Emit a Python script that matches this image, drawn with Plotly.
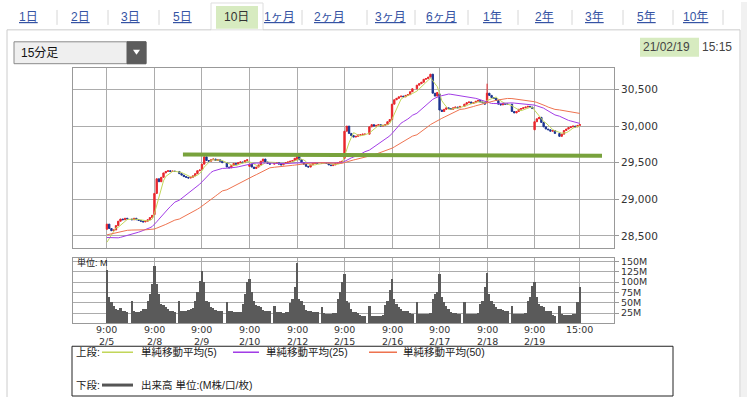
import plotly.graph_objects as go
import pandas as pd

W, H = 747, 397

# ---------------- data ----------------
days = ["2/5", "2/8", "2/9", "2/10", "2/12", "2/15", "2/16", "2/17", "2/18", "2/19"]
morning_times = ["9:00", "9:15", "9:30", "9:45", "10:00", "10:15", "10:30", "10:45", "11:00", "11:15"]
afternoon_times = ["12:30", "12:45", "13:00", "13:15", "13:30", "13:45", "14:00", "14:15", "14:30", "14:45"]

# opening price of the first 15-min bar of each day
day_open = [28590, 28790, 29410, 29450, 29540, 29560, 30090, 30440, 30320, 29950]

# 15-min closes (10 morning bars, 10 afternoon bars) per day
close_0205 = [28660, 28600, 28570, 28580, 28640, 28700, 28730, 28720, 28740, 28730,
              28720, 28740, 28720, 28710, 28700, 28690, 28700, 28720, 28750, 28780]
close_0208 = [29080, 29280, 29240, 29300, 29360, 29380, 29390, 29380, 29385, 29380,
              29350, 29330, 29310, 29300, 29290, 29300, 29320, 29350, 29390, 29400]
close_0209 = [29480, 29580, 29530, 29520, 29540, 29550, 29530, 29540, 29520, 29500,
              29440, 29430, 29460, 29490, 29480, 29500, 29510, 29500, 29530, 29540]
close_0210 = [29480, 29440, 29420, 29440, 29470, 29520, 29550, 29510, 29490, 29480,
              29490, 29500, 29480, 29470, 29490, 29500, 29510, 29520, 29530, 29560]
close_0212 = [29610, 29540, 29500, 29480, 29450, 29440, 29470, 29490, 29500, 29490,
              29500, 29500, 29490, 29470, 29460, 29470, 29490, 29500, 29510, 29520]
close_0215 = [29930, 30000, 29900, 29870, 29850, 29860, 29880, 29880, 29890, 29890,
              29990, 30020, 30000, 30010, 30020, 30000, 30010, 30020, 30060, 30090]
close_0216 = [30300, 30360, 30380, 30400, 30410, 30400, 30420, 30430, 30470, 30510,
              30560, 30580, 30600, 30640, 30650, 30670, 30710, 30450, 30410, 30460]
close_0217 = [30220, 30200, 30230, 30250, 30240, 30230, 30250, 30260, 30250, 30270,
              30300, 30320, 30330, 30310, 30320, 30340, 30350, 30330, 30320, 30300]
close_0218 = [30450, 30420, 30390, 30380, 30350, 30300, 30290, 30310, 30300, 30300,
              30200, 30180, 30200, 30230, 30240, 30250, 30260, 30270, 30260, 30240]
close_0219 = [30060, 30100, 30120, 30050, 29990, 29960, 29950, 29930, 29940, 29900,
              29860, 29890, 29940, 29960, 29980, 29990, 30000, 29990, 30010, 30020]

# closes before the visible window (2/2 pm, 2/3, 2/4) - only used to warm up the averages
prior_closes = [28250, 28280, 28300, 28320, 28330, 28340, 28350, 28360, 28362,
                28560, 28620, 28660, 28700, 28720, 28700, 28680, 28690, 28700, 28710,
                28690, 28680, 28700, 28690, 28680, 28670, 28660, 28650, 28640, 28646,
                28600, 28560, 28520, 28500, 28480, 28470, 28460, 28450, 28440, 28420,
                28420, 28410, 28400, 28390, 28380, 28370, 28360, 28350, 28350, 28341]

# volume, millions
vol_0205 = [130, 63, 51, 41, 36, 33, 38, 31, 29, 27, 55, 29, 28, 27, 31, 35, 35, 55, 72, 95]
vol_0208 = [139, 95, 71, 48, 44, 39, 35, 30, 29, 28, 55, 31, 30, 31, 33, 35, 38, 55, 75, 103]
vol_0209 = [128, 99, 55, 51, 40, 38, 33, 31, 30, 30, 51, 30, 29, 28, 28, 27, 27, 47, 71, 100]
vol_0210 = [108, 75, 55, 45, 42, 40, 33, 31, 30, 30, 43, 28, 27, 27, 26, 27, 28, 50, 60, 88]
vol_0212 = [147, 60, 55, 45, 33, 31, 30, 28, 27, 27, 39, 24, 23, 23, 23, 24, 25, 59, 75, 100]
vol_0215 = [119, 55, 50, 35, 27, 27, 25, 20, 18, 18, 43, 18, 17, 17, 18, 19, 20, 45, 55, 80]
vol_0216 = [107, 59, 47, 40, 35, 31, 31, 30, 25, 23, 51, 23, 23, 22, 22, 23, 25, 59, 71, 75]
vol_0217 = [120, 63, 51, 42, 35, 27, 25, 24, 23, 23, 51, 23, 22, 22, 22, 23, 24, 47, 55, 87]
vol_0218 = [122, 71, 55, 47, 40, 35, 35, 33, 31, 30, 43, 23, 22, 22, 22, 23, 25, 55, 65, 90]
vol_0219 = [99, 63, 47, 42, 39, 31, 31, 29, 20, 19, 43, 22, 21, 21, 20, 21, 22, 23, 51, 89]

price_ticks = [28500, 29000, 29500, 30000, 30500]
volume_ticks = [25, 50, 75, 100, 125, 150]
volume_tick_text = ["25M", "50M", "75M", "100M", "125M", "150M"]

support_level = [29612, 29594]          # hand-drawn green line (start, end)
support_span = [("2/8", 12.6), ("2/19", 29.8)]   # (day, slot within day)

tabs = ["1日", "2日", "3日", "5日", "10日", "1ヶ月", "2ヶ月", "3ヶ月", "6ヶ月", "1年", "2年", "3年", "5年", "10年"]
selected_tab = "10日"

# ---------------- assemble ----------------
SLOTS = 21  # 10 morning bars, lunch gap, 10 afternoon bars
closes_by_day = [close_0205, close_0208, close_0209, close_0210, close_0212,
                 close_0215, close_0216, close_0217, close_0218, close_0219]
vols_by_day = [vol_0205, vol_0208, vol_0209, vol_0210, vol_0212,
               vol_0215, vol_0216, vol_0217, vol_0218, vol_0219]

xs, o, c, v, labels = [], [], [], [], []
prev = prior_closes[-1]
for d, day in enumerate(days):
    times = morning_times + afternoon_times
    for k, t in enumerate(times):
        slot = d * SLOTS + (k if k < 10 else k + 1)
        xs.append(slot)
        op = day_open[d] if k == 0 else prev
        cl = closes_by_day[d][k]
        o.append(op)
        c.append(cl)
        v.append(vols_by_day[d][k])
        labels.append(f"{day} {t}")
        prev = cl
hi = [max(a, b) for a, b in zip(o, c)]
lo = [min(a, b) for a, b in zip(o, c)]
# visible upper wick at the 2/18 open
hi[labels.index("2/18 9:00")] = 30580

full = pd.Series(prior_closes + c)
n = len(c)
ma5 = full.rolling(5).mean().iloc[-n:].tolist()
ma25 = full.rolling(25).mean().iloc[-n:].tolist()
ma50 = full.rolling(50).mean().iloc[-n:].tolist()

day_starts = [d * SLOTS for d in range(len(days))]
tickvals = day_starts + [xs[-1]]
ticktext = [f"9:00<br>{d}" for d in days] + ["15:00"]

# ---------------- figure ----------------
def px(x):
    return x / W


def py(y):
    return 1 - y / H


XDOM = [px(73), px(614)]
XR = [-15, 224.1]
FONT = "DejaVu Sans, Noto Sans CJK JP, sans-serif"
JFONT = "Liberation Sans, Noto Sans CJK JP, sans-serif"
GRID = "#acacac"
BORDER = "#999999"

fig = go.Figure()
fig.add_trace(go.Scatter(x=xs, y=ma5, mode="lines", line=dict(color="#c2d65a", width=1), hoverinfo="skip"))
fig.add_trace(go.Candlestick(
    x=xs, open=o, high=hi, low=lo, close=c,
    increasing=dict(line=dict(color="#e8262c", width=1), fillcolor="#e8262c"),
    decreasing=dict(line=dict(color="#1d3590", width=1), fillcolor="#1d3590"),
    whiskerwidth=0, hoverinfo="skip"))
fig.add_trace(go.Scatter(x=xs, y=ma25, mode="lines", line=dict(color="#a23de6", width=1), hoverinfo="skip"))
fig.add_trace(go.Scatter(x=xs, y=ma50, mode="lines", line=dict(color="#ee7350", width=1), hoverinfo="skip"))
fig.add_trace(go.Bar(x=xs, y=v, width=1.0, marker=dict(color="#5a5a5a", line=dict(width=0)),
                     xaxis="x2", yaxis="y2", hoverinfo="skip"))

shapes = []
annotations = []


def line(x0, y0, x1, y1, color="#cccccc", width=1):
    shapes.append(dict(type="line", xref="paper", yref="paper", x0=px(x0), y0=py(y0),
                       x1=px(x1), y1=py(y1), line=dict(color=color, width=width)))


def rect(x0, y0, x1, y1, fill, color=None, width=1, layer="below"):
    shapes.append(dict(type="rect", xref="paper", yref="paper", x0=px(x0), y0=py(y1),
                       x1=px(x1), y1=py(y0), fillcolor=fill, layer=layer,
                       line=dict(color=color or fill, width=width if color else 0)))


def txt(x, y, s, size=11, color="#333333", anchor="left", family=FONT, xref="paper"):
    annotations.append(dict(xref=xref, yref="paper", x=(px(x) if xref == "paper" else x), y=py(y),
                            text=s, showarrow=False, xanchor=anchor, yanchor="middle",
                            borderpad=0, font=dict(size=size, color=color, family=family)))


# tab bar
tab_x = [29, 80, 130, 182, 236, 279, 329, 390, 441, 492, 544, 594, 646, 695]
separators = [57, 108, 159, 302, 367, 415, 468, 518, 572, 623, 673, 723]
for s in separators:
    line(s, 8, s, 23, color="#d6d6d6")
rect(211, 1, 263, 28, "#ffffff", color="#dedede")
rect(216, 4, 258, 27, "#d7ebc0")
line(7, 28, 211, 28)
line(263, 28, 740, 28)
line(7, 28, 7, 397)
line(740, 28, 740, 397)
rect(741, 0, 747, 397, "#f1f1f1")
for name, x in zip(tabs, tab_x):
    if name == selected_tab:
        txt(x, 15, name, size=12, color="#333333", anchor="center", family=JFONT)
    else:
        txt(x, 15, f'<span style="text-decoration:underline">{name}</span>', size=12,
            color="#3553a3", anchor="center", family=JFONT)

# interval selector
rect(14, 40, 146, 62, "#efefef", color="#8a8a8a")
rect(127, 40, 146, 62, "#5c5c5c", color="#5c5c5c")
shapes.append(dict(type="path", xref="paper", yref="paper",
                   path=f"M {px(133)},{py(48)} L {px(140)},{py(48)} L {px(136.5)},{py(53)} Z",
                   fillcolor="#ffffff", line=dict(width=0)))
txt(20, 51, "15分足", size=12, color="#111111", family=JFONT)

# timestamp
rect(640, 36, 699, 55, "#d7ebc0")
txt(642, 45, "21/02/19", size=12, color="#444444", family="Liberation Sans, sans-serif")
txt(701, 45, "15:15", size=12, color="#444444", family="Liberation Sans, sans-serif")

# green support line
d0, s0 = support_span[0]
d1, s1 = support_span[1]
shapes.append(dict(type="line", xref="x", yref="y",
                   x0=days.index(d0) * SLOTS + s0, x1=days.index(d1) * SLOTS + s1,
                   y0=support_level[0], y1=support_level[1],
                   line=dict(color="#78a23c", width=4), layer="above"))

# volume unit label
txt(76, 262, "単位: M", size=9, color="#222222", family=JFONT)

# time/date labels under the volume panel (placed at the axis tick positions)
for tv, tt in zip(tickvals, ticktext):
    if "<br>" in tt:
        txt(tv, 335.5, tt, size=9.5, color="#333333", anchor="center", xref="x2")
    else:
        txt(tv, 329.5, tt, size=9.5, color="#333333", anchor="center", xref="x2")

# legend box
rect(72, 346, 673, 396, "#ffffff", color="#222222", layer="below")
txt(75, 352, "上段:", size=10.5, color="#222222", family=JFONT)
line(102, 352, 133, 352, color="#c2d65a", width=1.5)
txt(140, 352, "単純移動平均(5)", size=10.5, color="#222222", family=JFONT)
line(233, 352, 259, 352, color="#a23de6", width=1.5)
txt(265, 352, "単純移動平均(25)", size=10.5, color="#222222", family=JFONT)
line(369, 352, 397, 352, color="#ee7350", width=1.5)
txt(402, 352, "単純移動平均(50)", size=10.5, color="#222222", family=JFONT)
txt(75, 385, "下段:", size=10.5, color="#222222", family=JFONT)
line(102, 385, 133, 385, color="#555555", width=3)
txt(140, 385, "出来高 単位:(M株/口/枚)", size=10.5, color="#222222", family=JFONT)

axis_common = dict(showline=True, mirror=True, linecolor=BORDER, linewidth=1,
                   gridcolor=GRID, gridwidth=1, zeroline=False, fixedrange=True)

fig.update_layout(
    width=W, height=H, autosize=False,
    margin=dict(l=0, r=0, t=0, b=0),
    paper_bgcolor="#ffffff", plot_bgcolor="#ffffff",
    showlegend=False,
    font=dict(family=FONT, size=11, color="#333333"),
    bargap=0, boxgap=0.15,
    xaxis=dict(domain=XDOM, range=XR, anchor="y", tickmode="array", tickvals=tickvals,
               showticklabels=False, showgrid=True, ticks="", rangeslider=dict(visible=False),
               **axis_common),
    yaxis=dict(domain=[py(247), py(66)], range=[28337, 30799], side="right", anchor="x",
               tickmode="array", tickvals=price_ticks, tickformat=",d", showgrid=True,
               ticks="outside", ticklen=4, tickcolor=BORDER,
               tickfont=dict(size=10.5, color="#333333"), **axis_common),
    xaxis2=dict(domain=XDOM, range=XR, anchor="y2", tickmode="array", tickvals=tickvals,
                ticktext=ticktext, showticklabels=False, showgrid=True, ticks="",
                **axis_common),
    yaxis2=dict(domain=[py(323), py(257)], range=[0, 159], side="right", anchor="x2",
                tickmode="array", tickvals=volume_ticks, ticktext=volume_tick_text, showgrid=True,
                ticks="outside", ticklen=4, tickcolor=BORDER,
                tickfont=dict(size=9.5, color="#333333"), **axis_common),
    shapes=shapes,
    annotations=annotations,
)

fig.write_html("out.html", config={"displayModeBar": False, "staticPlot": True},
               post_script="document.body.style.margin='0';document.body.style.overflow='hidden';")
